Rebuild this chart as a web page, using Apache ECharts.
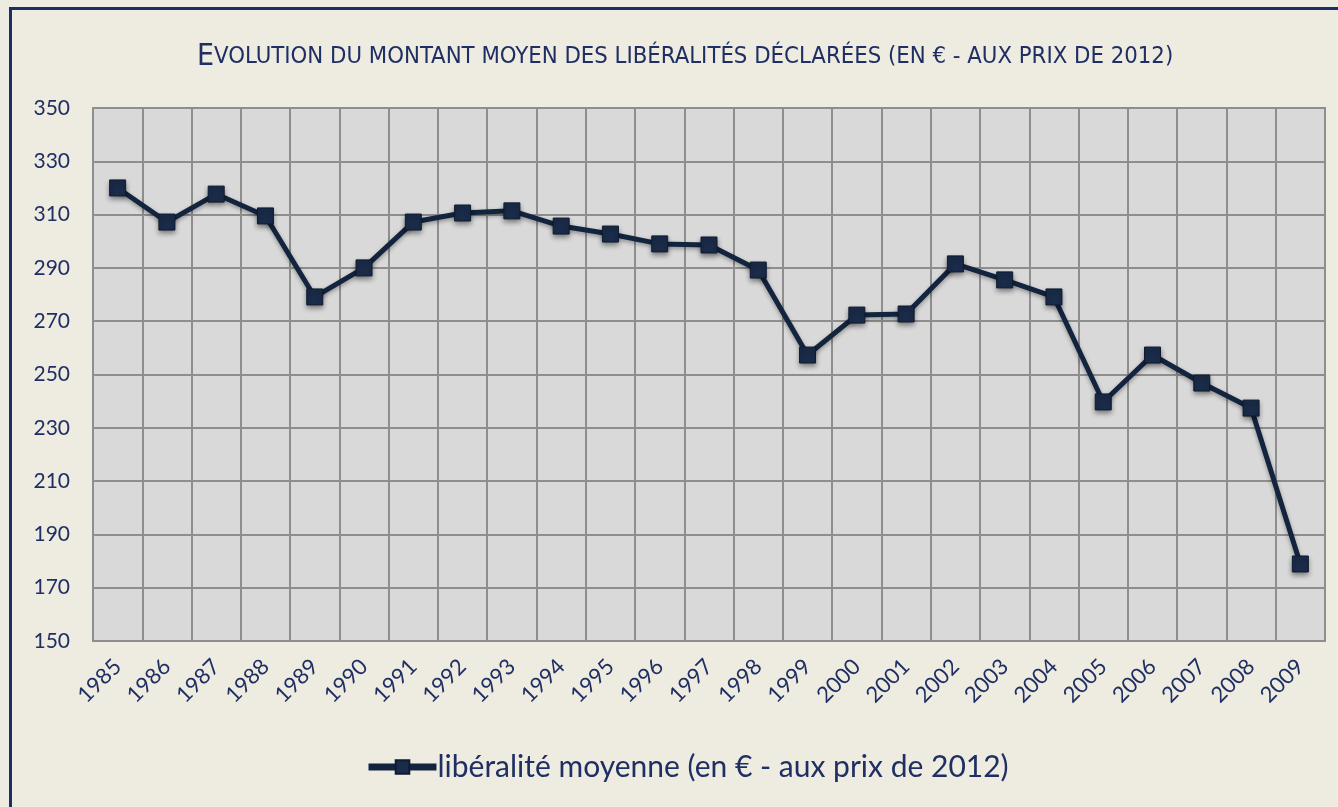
<!DOCTYPE html>
<html>
<head>
<meta charset="utf-8">
<script src="https://cdn.jsdelivr.net/npm/echarts@6/dist/echarts.min.js"></script>
<style>
html,body{margin:0;padding:0;background:#EEEBE0;}
#frame{position:absolute;left:9px;top:7px;width:1340px;height:820px;border:3px solid #1B2F66;box-sizing:border-box;}
#c{position:absolute;left:0;top:0;width:1338px;height:807px;}
</style>
</head>
<body>
<div id="frame"></div>
<div id="c"></div>
<script>
const years = ['1985','1986','1987','1988','1989','1990','1991','1992','1993','1994','1995','1996','1997','1998','1999','2000','2001','2002','2003','2004','2005','2006','2007','2008','2009'];
const values = [320,307.2,317.7,309.5,279.1,290,307.2,310.6,311.4,305.7,302.7,299,298.6,289.2,257.3,272.3,272.7,291.5,285.5,279.1,239.7,257.3,246.8,237.4,178.9];
const seriesName = 'libéralité moyenne (en € - aux prix de 2012)';
const yTicks = {min:150, max:350, interval:20};

const chart = echarts.init(document.getElementById('c'));
const navy = '#1F2F63';
const condensed = '"DejaVu Sans Condensed", "Roboto Condensed", "Liberation Sans Narrow", sans-serif';
chart.setOption({
  backgroundColor: 'transparent',
  title: {
    text: '{a|E}{b|VOLUTION DU MONTANT MOYEN DES LIBÉRALITÉS DÉCLARÉES (EN € - AUX PRIX DE 2012)}',
    left: 192, top: 37,
    textStyle: {
      fontWeight: 'normal',
      rich: {
        a: {fontFamily: condensed, fontSize: 30, fontWeight: 'normal', color: navy},
        b: {fontFamily: condensed, fontSize: 23.7, fontWeight: 'normal', color: navy}
      }
    }
  },
  legend: {
    bottom: 20, left: 360,
    itemWidth: 68, itemHeight: 17, itemGap: 0,
    lineStyle: {width: 7, color: '#13243F'},
    textStyle: {fontFamily: 'Lato', fontSize: 30, color: navy, padding: [0, 0, 0, -4]},
    data: [seriesName]
  },
  grid: {
    left: 93, right: 13, top: 108, bottom: 166,
    show: true, backgroundColor: '#D9D9D9', borderColor: '#8E8E8E', borderWidth: 2,
    containLabel: false
  },
  xAxis: {
    type: 'category', data: years, boundaryGap: true,
    axisLine: {show: true, lineStyle: {color: '#8E8E8E', width: 2}},
    axisTick: {show: false},
    splitLine: {show: true, interval: 0, lineStyle: {color: '#8E8E8E', width: 2}},
    axisLabel: {interval: 0, rotate: 45, margin: 22, fontFamily: 'Lato', fontSize: 22, color: navy}
  },
  yAxis: {
    type: 'value', min: yTicks.min, max: yTicks.max, interval: yTicks.interval,
    axisLine: {show: false}, axisTick: {show: false},
    splitLine: {show: true, lineStyle: {color: '#8E8E8E', width: 2}},
    axisLabel: {margin: 23, fontFamily: 'Lato', fontSize: 21, color: navy}
  },
  series: [{
    name: seriesName, type: 'line', data: values,
    symbol: 'rect', symbolSize: 16,
    lineStyle: {color: '#13243F', width: 5, shadowColor: 'rgba(0,0,0,0.35)', shadowBlur: 4, shadowOffsetY: 2},
    itemStyle: {color: '#1A2C4A', borderColor: '#0F1B30', borderWidth: 1, shadowColor: 'rgba(0,0,0,0.45)', shadowBlur: 5, shadowOffsetY: 3},
    emphasis: {disabled: true},
    animation: false
  }],
  animation: false
});
</script>
</body>
</html>
